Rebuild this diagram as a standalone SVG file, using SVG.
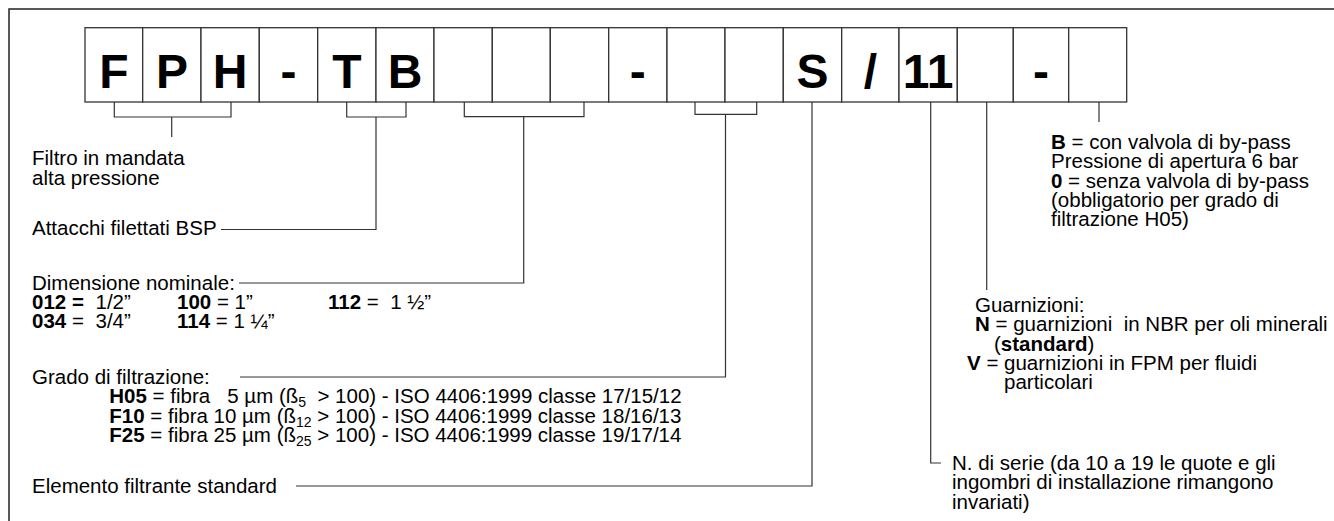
<svg xmlns="http://www.w3.org/2000/svg" width="1334" height="521" viewBox="0 0 1334 521">
<style>
.bx{fill:#fff;stroke:#333;stroke-width:1.3}
.bl{font-family:"Liberation Sans",Arial,sans-serif;font-weight:bold;font-size:48px;fill:#000;text-anchor:middle}
.t{font-family:"Liberation Sans",Arial,sans-serif;font-size:20.5px;fill:#000}
.b{font-weight:bold}
.sub{font-size:14px}
.ln{fill:none;stroke:#333;stroke-width:1.2}
.fr{fill:none;stroke:#222;stroke-width:1.5}
</style>
<path class="fr" d="M9,521 V9 H1334"/>
<g id="code">
<g id="box1"><rect class="bx" x="85" y="27.7" width="57.7" height="74.3"/><text class="bl" x="113.9" y="87.5">F</text></g>
<g id="box2"><rect class="bx" x="142.7" y="27.7" width="58.3" height="74.3"/><text class="bl" x="171.9" y="87.5">P</text></g>
<g id="box3"><rect class="bx" x="201" y="27.7" width="58.3" height="74.3"/><text class="bl" x="230.2" y="87.5">H</text></g>
<g id="box4"><rect class="bx" x="259.3" y="27.7" width="58.4" height="74.3"/><text class="bl" x="288.5" y="87.5">-</text></g>
<g id="box5"><rect class="bx" x="317.7" y="27.7" width="58.3" height="74.3"/><text class="bl" x="346.9" y="87.5">T</text></g>
<g id="box6"><rect class="bx" x="376" y="27.7" width="58" height="74.3"/><text class="bl" x="405" y="87.5">B</text></g>
<g id="box7"><rect class="bx" x="434" y="27.7" width="58.3" height="74.3"/></g>
<g id="box8"><rect class="bx" x="492.3" y="27.7" width="58" height="74.3"/></g>
<g id="box9"><rect class="bx" x="550.3" y="27.7" width="58.4" height="74.3"/></g>
<g id="box10"><rect class="bx" x="608.7" y="27.7" width="58.3" height="74.3"/><text class="bl" x="637.8" y="87.5">-</text></g>
<g id="box11"><rect class="bx" x="667" y="27.7" width="58" height="74.3"/></g>
<g id="box12"><rect class="bx" x="725" y="27.7" width="58.3" height="74.3"/></g>
<g id="box13"><rect class="bx" x="783.3" y="27.7" width="58.4" height="74.3"/><text class="bl" x="812.5" y="87.5">S</text></g>
<g id="box14"><rect class="bx" x="841.7" y="27.7" width="57.3" height="74.3"/><text class="bl" x="870.3" y="87.5">/</text></g>
<g id="box15"><rect class="bx" x="899" y="27.7" width="58.3" height="74.3"/><text class="bl" x="928.2" y="87.5">11</text></g>
<g id="box16"><rect class="bx" x="957.3" y="27.7" width="56" height="74.3"/></g>
<g id="box17"><rect class="bx" x="1013.3" y="27.7" width="55.4" height="74.3"/><text class="bl" x="1041" y="87.5">-</text></g>
<g id="box18"><rect class="bx" x="1068.7" y="27.7" width="58" height="74.3"/></g>
</g>
<g id="connectors">
<path class="ln" d="M114.3,102 V117 H231 V102 M171.7,117 V137"/>
<path class="ln" d="M346.7,102 V117 H406 V102 M376,117 V229.5 H221"/>
<path class="ln" d="M464.3,102 V116.7 H584 V102 M523.7,116.7 V283 H239"/>
<path class="ln" d="M695,102 V114.3 H756.7 V102 M725.5,114.3 V377 H240"/>
<path class="ln" d="M812,102 V486 H296"/>
<path class="ln" d="M930.7,102 V463 H941"/>
<path class="ln" d="M986.7,102 V290"/>
<path class="ln" d="M1099,102 V122"/>
</g>
<g id="n-filtro"><text class="t" x="32" y="165">Filtro in mandata</text><text class="t" x="32" y="184.5">alta pressione</text></g>
<g id="n-attacchi"><text class="t" x="32" y="235">Attacchi filettati BSP</text></g>
<g id="n-dimensione">
<text class="t" x="32" y="289.5">Dimensione nominale:</text>
<text class="t" y="308.5" xml:space="preserve"><tspan class="b" x="32">012 =</tspan><tspan x="95.5">1/2”</tspan><tspan class="b" x="177">100</tspan> = 1”<tspan class="b" x="328">112</tspan> =  1 ½”</text>
<text class="t" y="327.5" xml:space="preserve"><tspan class="b" x="32">034</tspan> = <tspan x="95.5">3/4”</tspan><tspan class="b" x="177">114</tspan> = 1 ¼”</text>
</g>
<g id="n-grado">
<text class="t" x="32" y="384">Grado di filtrazione:</text>
<text class="t" x="109.3" y="403" xml:space="preserve"><tspan class="b">H05</tspan> = fibra   5 µm (ß<tspan class="sub" dy="4">5</tspan><tspan dy="-4">  &gt; 100) - ISO 4406:1999 classe 17/15/12</tspan></text>
<text class="t" x="109.3" y="422.5" xml:space="preserve"><tspan class="b">F10</tspan> = fibra 10 µm (ß<tspan class="sub" dy="4">12</tspan><tspan dy="-4"> &gt; 100) - ISO 4406:1999 classe 18/16/13</tspan></text>
<text class="t" x="109.3" y="442" xml:space="preserve"><tspan class="b">F25</tspan> = fibra 25 µm (ß<tspan class="sub" dy="4">25</tspan><tspan dy="-4"> &gt; 100) - ISO 4406:1999 classe 19/17/14</tspan></text>
</g>
<g id="n-elemento"><text class="t" x="32" y="493">Elemento filtrante standard</text></g>
<g id="n-bypass">
<text class="t" x="1051" y="149"><tspan class="b">B</tspan> = con valvola di by-pass</text>
<text class="t" x="1051" y="168.3">Pressione di apertura 6 bar</text>
<text class="t" x="1051" y="187.6"><tspan class="b">0</tspan> = senza valvola di by-pass</text>
<text class="t" x="1051" y="206.9">(obbligatorio per grado di</text>
<text class="t" x="1051" y="226.2">filtrazione H05)</text>
</g>
<g id="n-guarnizioni">
<text class="t" x="975" y="312">Guarnizioni:</text>
<text class="t" x="975" y="331.3" xml:space="preserve"><tspan class="b">N</tspan> = guarnizioni  in NBR per oli minerali</text>
<text class="t" x="994" y="350.6">(<tspan class="b">standard</tspan>)</text>
<text class="t" x="967" y="369.9"><tspan class="b">V</tspan> = guarnizioni in FPM per fluidi</text>
<text class="t" x="1004" y="389.2">particolari</text>
</g>
<g id="n-serie">
<text class="t" x="952" y="470">N. di serie (da 10 a 19 le quote e gli</text>
<text class="t" x="952" y="489.3">ingombri di installazione rimangono</text>
<text class="t" x="952" y="508.6">invariati)</text>
</g>
</svg>
